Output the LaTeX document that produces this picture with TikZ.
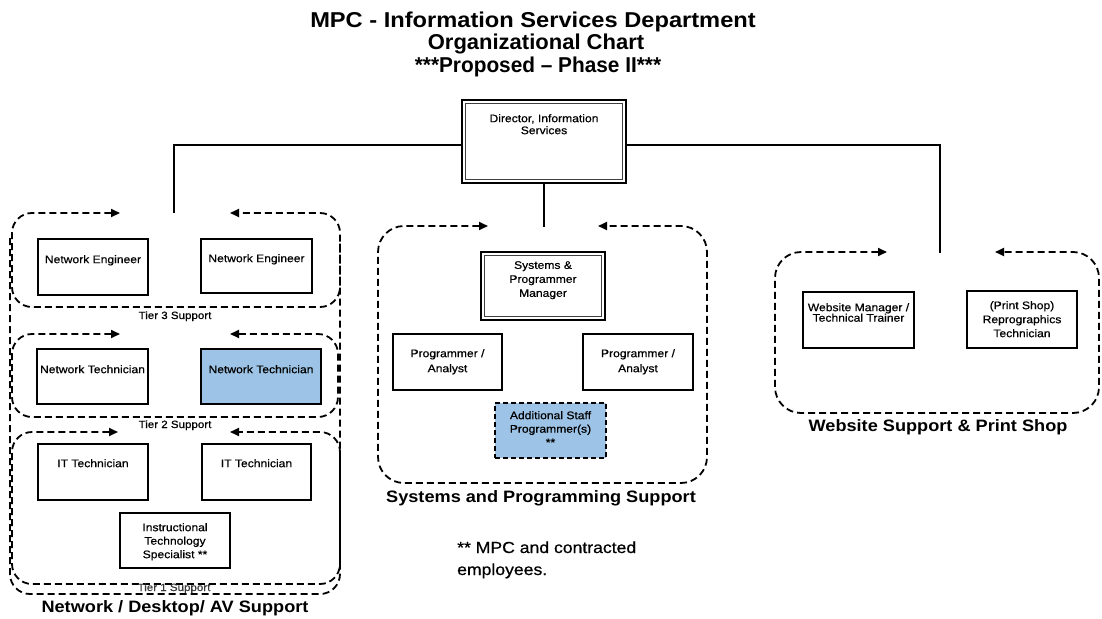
\documentclass[tikz,border=0pt]{standalone}
\usepackage{fontspec}
\setmainfont{Liberation Sans}[FakeStretch=1.1]
\newfontfamily\plainfont{Liberation Sans}[FakeStretch=1.1, FakeBold=0.6]
\usetikzlibrary{arrows.meta}
\definecolor{techblue}{RGB}{157,195,230}
\definecolor{tiergray}{RGB}{55,55,55}

% frame of a support group: rounded dashed outline whose top edge is split
% into two arrows pointing at the incoming reporting line
\newcommand{\groupframe}[8]{%
  \coordinate (#1-l)  at (#6,#3);
  \coordinate (#1-nw) at (#2,#3);
  \coordinate (#1-sw) at (#2,#5);
  \coordinate (#1-se) at (#4,#5);
  \coordinate (#1-ne) at (#4,#3);
  \coordinate (#1-r)  at (#7,#3);
  \draw[frame, rounded corners=#8] (#1-l) -- (#1-nw) -- (#1-sw) -- (#1-se) -- (#1-ne) -- (#1-r);
}
% position box from its corners
\newcommand{\orgbox}[6]{%
  \node[#6, minimum width={#4-#2}, minimum height={#5-#3}] (#1) at ({(#2+#4)/2},{(#3+#5)/2}) {};
}

\begin{document}
\begin{tikzpicture}[x=1pt,y=-1pt,
  box/.style={draw, line width=1.3pt, rectangle, inner sep=0pt, outer sep=0pt},
  bluebox/.style={box, fill=techblue},
  dashbox/.style={box, fill=techblue, line width=1.6pt, dash pattern=on 5pt off 3pt},
  dblbox/.style={draw, line width=2.4pt, rectangle, inner sep=0pt, outer sep=0pt,
    path picture={\draw[line width=0.8pt, black!75]
      ([shift={(3.5pt,-3.5pt)}]path picture bounding box.north west) rectangle
      ([shift={(-3.5pt,3.5pt)}]path picture bounding box.south east);}},
  boxtext/.style={font=\plainfont\fontsize{11}{13.5}\selectfont, align=center, inner sep=0pt, anchor=north},
  frame/.style={line width=1.8pt, dash pattern=on 7pt off 4pt,
    arrows={Triangle[length=9pt,width=8pt]-Triangle[length=9pt,width=8pt]}},
  outerframe/.style={line width=1.8pt, dash pattern=on 7pt off 4pt},
  link/.style={line width=1.2pt},
  grouplabel/.style={font=\fontsize{16.5}{18}\bfseries\selectfont, anchor=base, inner sep=0pt},
  tierlabel/.style={font=\plainfont\fontsize{10.5}{12}\selectfont, anchor=base, inner sep=0pt},
  titletext/.style={font=\fontsize{21.5}{23}\bfseries\selectfont, anchor=base, inner sep=0pt},
  notetext/.style={font=\plainfont\fontsize{16}{18}\selectfont, anchor=base west, inner sep=0pt}
]
\useasboundingbox (0,0) rectangle (1102,618);

% title
\node[titletext] (title1) at (533,28) {MPC - Information Services Department};
\node[titletext] (title2) at (536,50) {\scalebox{0.93}[1]{Organizational Chart}};
\node[titletext] (title3) at (538,73) {\scalebox{0.88}[1]{***Proposed \textendash{} Phase II***}};

% director
\orgbox{dir}{462}{100}{626}{183}{dblbox}
\node[boxtext, font=\plainfont\fontsize{11}{12}\selectfont] (dir-t) at ([yshift=-14pt]dir.north) {Director, Information\\Services};

% network / desktop / AV support
\groupframe{t3}{12}{213}{340}{307}{120}{230}{20pt}
\groupframe{t2}{12}{334}{338}{417}{120}{230}{20pt}
\groupframe{t1}{12}{432}{340}{584}{118}{230}{20pt}
\coordinate (nd-a) at (10,238);
\coordinate (nd-b) at (10,594);
\coordinate (nd-c) at (340,594);
\coordinate (nd-d) at (340,238);
\draw[outerframe, rounded corners=20pt] (nd-a) -- (nd-b) -- (nd-c) -- (nd-d);

\orgbox{ne1}{38}{239}{148}{295}{box}
\orgbox{ne2}{201}{239}{312}{293}{box}
\node[boxtext] (ne1-t) at ([yshift=-16pt]ne1.north) {Network Engineer};
\node[boxtext] (ne2-t) at ([yshift=-15pt]ne2.north) {Network Engineer};
\node[tierlabel] (tier3) at (175,319) {Tier 3 Support};

\orgbox{nt1}{37}{349}{148}{404}{box}
\orgbox{nt2}{201}{349}{321}{404}{bluebox}
\node[boxtext] (nt1-t) at ([yshift=-16pt]nt1.north) {Network Technician};
\node[boxtext] (nt2-t) at ([yshift=-16pt]nt2.north) {Network Technician};
\node[tierlabel] (tier2) at (175,428) {Tier 2 Support};

\orgbox{it1}{38}{444}{148}{500}{box}
\orgbox{it2}{202}{444}{311}{500}{box}
\orgbox{its}{120}{513}{230}{568}{box}
\node[boxtext] (it1-t) at ([yshift=-15pt]it1.north) {IT Technician};
\node[boxtext] (it2-t) at ([yshift=-15pt]it2.north) {IT Technician};
\node[boxtext] (its-t) at ([yshift=-10pt]its.north) {Instructional\\Technology\\Specialist **};
\node[tierlabel, text=tiergray] (tier1) at (174,591) {Tier 1 Support};
\node[grouplabel] (lbl-net) at (175,612) {Network / Desktop/ AV Support};

% systems and programming support
\groupframe{sp}{378}{226}{707}{483}{488}{598}{26pt}
\orgbox{spm}{481}{252}{605}{320}{dblbox}
\node[boxtext, font=\plainfont\fontsize{11}{14}\selectfont] (spm-t) at ([yshift=-9pt]spm.north) {Systems \&\\Programmer\\Manager};
\orgbox{pa1}{393}{334}{502}{390}{box}
\orgbox{pa2}{583}{334}{693}{390}{box}
\node[boxtext, font=\plainfont\fontsize{11}{15}\selectfont] (pa1-t) at ([yshift=-15pt]pa1.north) {Programmer /\\Analyst};
\node[boxtext, font=\plainfont\fontsize{11}{15}\selectfont] (pa2-t) at ([yshift=-15pt]pa2.north) {Programmer /\\Analyst};
\orgbox{add}{495}{403}{606}{458}{dashbox}
\node[boxtext] (add-t) at ([yshift=-8pt]add.north) {Additional Staff\\Programmer(s)\\**};
\node[grouplabel] (lbl-sys) at (541,502) {Systems and Programming Support};

% website support & print shop
\groupframe{ws}{775}{252}{1099}{413}{887}{995}{26pt}
\orgbox{web}{803}{292}{914}{348}{box}
\orgbox{prt}{967}{291}{1077}{348}{box}
\node[boxtext, font=\plainfont\fontsize{11}{10.5}\selectfont] (web-t) at ([yshift=-11pt]web.north) {Website Manager /\\Technical Trainer};
\node[boxtext, font=\plainfont\fontsize{11}{14}\selectfont] (prt-t) at ([yshift=-10pt]prt.north) {(Print Shop)\\Reprographics\\Technician};
\node[grouplabel] (lbl-web) at (938,431) {Website Support \& Print Shop};

% reporting lines
\coordinate (t3-in) at (174,213);
\coordinate (sp-in) at (544,227);
\coordinate (ws-in) at (940,253);
\draw[link] ([yshift=-3.5pt]dir.west) -| (t3-in);
\draw[link] ([yshift=-3.5pt]dir.east) -| (ws-in);
\draw[link] (dir.south) -- (sp-in);

% footnote
\node[notetext] (note1) at (457,553) {** MPC and contracted};
\node[notetext] (note2) at (457,575) {employees.};
\end{tikzpicture}
\end{document}
